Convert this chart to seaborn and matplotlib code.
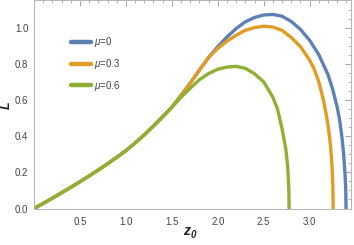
import numpy as np
import pandas as pd
import matplotlib
matplotlib.use('Agg')
from matplotlib import pyplot as plt
from matplotlib.ticker import MultipleLocator
import seaborn as sns

# values (z0, L) for each mu
z_mu0 = [0.0, 0.1, 0.2, 0.3, 0.4, 0.5, 0.6, 0.7, 0.8, 0.9, 1.0, 1.1, 1.2, 1.3, 1.4, 1.5, 1.6, 1.7, 1.8, 1.9,
         2.0, 2.1, 2.2, 2.3, 2.4, 2.5, 2.6, 2.7, 2.8, 2.9, 3.0, 3.1, 3.2, 3.25, 3.3, 3.326, 3.35, 3.37, 3.385,
         3.393, 3.396]
L_mu0 = [0.0, 0.028, 0.057, 0.087, 0.117, 0.148, 0.18, 0.213, 0.247, 0.283, 0.32, 0.362, 0.407, 0.456, 0.507,
         0.56, 0.625, 0.693, 0.765, 0.835, 0.895, 0.948, 0.995, 1.032, 1.056, 1.07, 1.073, 1.063, 1.034, 0.99,
         0.93, 0.85, 0.74, 0.66, 0.56, 0.49, 0.40, 0.30, 0.19, 0.10, 0.0]

z_mu3 = [0.0, 0.1, 0.2, 0.3, 0.4, 0.5, 0.6, 0.7, 0.8, 0.9, 1.0, 1.1, 1.2, 1.3, 1.4, 1.5, 1.6, 1.7, 1.8, 1.9,
         2.0, 2.1, 2.2, 2.3, 2.4, 2.5, 2.6, 2.7, 2.8, 2.9, 3.0, 3.05, 3.1, 3.15, 3.18, 3.2, 3.22, 3.235, 3.245,
         3.252, 3.255, 3.256]
L_mu3 = [0.0, 0.028, 0.057, 0.087, 0.117, 0.148, 0.18, 0.213, 0.247, 0.283, 0.32, 0.362, 0.407, 0.456, 0.507,
         0.56, 0.625, 0.693, 0.765, 0.835, 0.885, 0.925, 0.958, 0.985, 1.0, 1.008, 1.003, 0.985, 0.945, 0.895,
         0.82, 0.77, 0.70, 0.60, 0.52, 0.46, 0.38, 0.30, 0.22, 0.13, 0.05, 0.0]

z_mu6 = [0.0, 0.1, 0.2, 0.3, 0.4, 0.5, 0.6, 0.7, 0.8, 0.9, 1.0, 1.1, 1.2, 1.3, 1.4, 1.5, 1.6, 1.7, 1.8, 1.9,
         2.0, 2.1, 2.2, 2.3, 2.4, 2.5, 2.6, 2.65, 2.7, 2.74, 2.76, 2.77, 2.775, 2.776]
L_mu6 = [0.0, 0.028, 0.057, 0.087, 0.117, 0.148, 0.18, 0.213, 0.247, 0.283, 0.32, 0.362, 0.407, 0.456, 0.507,
         0.56, 0.615, 0.665, 0.712, 0.746, 0.77, 0.782, 0.786, 0.775, 0.745, 0.70, 0.615, 0.55, 0.44, 0.33,
         0.24, 0.15, 0.07, 0.0]

labels = ['$\\mu$=0', '$\\mu$=0.3', '$\\mu$=0.6']
colors = ['#5E81B5', '#E19C24', '#8FB032']

frames = []
for lab, z, L in zip(labels, [z_mu0, z_mu3, z_mu6], [L_mu0, L_mu3, L_mu6]):
    frames.append(pd.DataFrame({'z0': z, 'L': L, 'mu': lab}))
df = pd.concat(frames, ignore_index=True)

sns.set_style('white')
plt.rcParams['font.family'] = ['Liberation Sans', 'DejaVu Sans']
plt.rcParams['mathtext.fontset'] = 'custom'
plt.rcParams['mathtext.it'] = 'Liberation Sans:italic'
plt.rcParams['mathtext.rm'] = 'Liberation Sans'

fig = plt.figure(figsize=(3.54, 2.45), dpi=100)
ax = fig.add_axes([34 / 354, 1 - 208.5 / 245, 317 / 354, 208 / 245])

sns.lineplot(data=df, x='z0', y='L', hue='mu', palette=colors, sort=False,
             estimator=None, linewidth=2.4, ax=ax)

ax.set_xlim(0, 3.45)
ax.set_ylim(0, 1.15)
ax.xaxis.set_minor_locator(MultipleLocator(0.1))
ax.yaxis.set_minor_locator(MultipleLocator(0.05))
ax.set_xticks([0.5, 1.0, 1.5, 2.0, 2.5, 3.0])
ax.set_xticklabels(['0.5', '1.0', '1.5', '2.0', '2.5', '3.0'])
ax.set_yticks([0.0, 0.2, 0.4, 0.6, 0.8, 1.0])
ax.set_yticklabels(['0.0', '0.2', '0.4', '0.6', '0.8', '1.0'])

for s in ax.spines.values():
    s.set_color('#b8b8b8')
    s.set_linewidth(0.8)
ax.tick_params(which='both', direction='in', top=True, right=True,
               color='#999999', labelsize=7, labelcolor='#444444')
ax.tick_params(axis='x', which='major', pad=6)
ax.tick_params(axis='y', which='major', pad=4)
ax.tick_params(which='major', length=4, width=0.6)
ax.tick_params(which='minor', length=2.2, width=0.5)
ax.set_xlabel('')
ax.set_ylabel('')

# axis labels, bold italic like the reference
fig.text(7 / 354, 1 - 105 / 245, 'L', rotation=90, fontsize=9, fontweight='bold',
         fontstyle='italic', color='#222222', ha='center', va='center')
fig.text(190 / 354, 1 - 231 / 245, 'z', fontsize=10, fontweight='bold',
         fontstyle='italic', color='#222222', ha='right', va='center')
fig.text(190.5 / 354, 1 - 235 / 245, '0', fontsize=7, fontweight='bold',
         fontstyle='italic', color='#222222', ha='left', va='center')

leg = ax.legend(loc='upper left', bbox_to_anchor=(0.09, 0.875), frameon=False,
                fontsize=7, handlelength=2.0, labelspacing=0.8, handletextpad=0.3)
for line in leg.get_lines():
    line.set_linewidth(3.2)
for t in leg.get_texts():
    t.set_color('#444444')

plt.savefig('out.png', dpi=100)
